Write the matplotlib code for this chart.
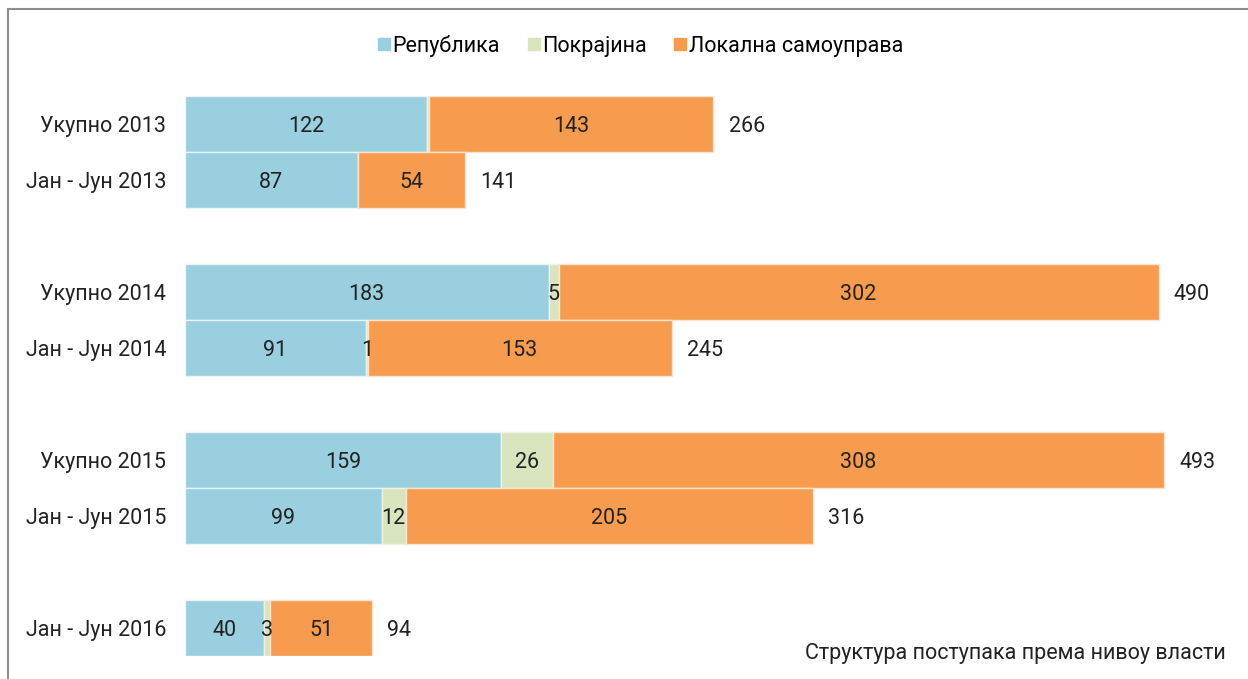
import numpy as np
import matplotlib.pyplot as plt
from matplotlib.lines import Line2D

plt.rcParams['font.family'] = ['Roboto', 'DejaVu Sans']

categories = ['Укупно 2013', 'Јан - Јун 2013', 'Укупно 2014', 'Јан - Јун 2014',
              'Укупно 2015', 'Јан - Јун 2015', 'Јан - Јун 2016']
positions = [0, 1, 3, 4, 6, 7, 9]
republika = [122, 87, 183, 91, 159, 99, 40]
pokrajina = [1, 0, 5, 1, 26, 12, 3]
pokrajina_labels = ['', '', '5', '1', '26', '12', '3']
lokalna = [143, 54, 302, 153, 308, 205, 51]
totals = [266, 141, 490, 245, 493, 316, 94]

c_rep = '#99CFDF'
c_pok = '#D8E4BE'
c_lok = '#F79C4E'

fig = plt.figure(figsize=(12.48, 6.79), dpi=100)
ax = fig.add_axes([185 / 1248, 1 - 656 / 679, (1238 - 185) / 1248, 560 / 679])

y = np.array(positions)
rep = np.array(republika)
pok = np.array(pokrajina)
lok = np.array(lokalna)

ax.barh(y, rep, height=1.0, color=c_rep, edgecolor='#EAF5F8', linewidth=1)
ax.barh(y, pok, left=rep, height=1.0, color=c_pok, edgecolor='#EEF3E3', linewidth=1)
ax.barh(y, lok, left=rep + pok, height=1.0, color=c_lok, edgecolor='#FCE3CE', linewidth=1)

fs = 15.5
tc = '#222222'
for i in range(len(y)):
    ax.text(rep[i] / 2, y[i], str(republika[i]), ha='center', va='center_baseline', fontsize=fs, color=tc)
    if pokrajina_labels[i]:
        ax.text(rep[i] + pok[i] / 2, y[i], pokrajina_labels[i], ha='center', va='center_baseline', fontsize=fs, color=tc)
    ax.text(rep[i] + pok[i] + lok[i] / 2, y[i], str(lokalna[i]), ha='center', va='center_baseline', fontsize=fs, color=tc)
    ax.annotate(str(totals[i]), (totals[i], y[i]), xytext=(11, 0), textcoords='offset points',
                ha='left', va='center_baseline', fontsize=fs, color=tc)

ax.set_xlim(0, 530)
ax.set_ylim(9.5, -0.5)
ax.set_yticks(positions)
ax.set_yticklabels(categories, fontsize=fs, color=tc, va='center_baseline')
ax.tick_params(axis='y', length=0, pad=13.5)
ax.set_xticks([])
for s in ax.spines.values():
    s.set_visible(False)

handles = [Line2D([], [], marker='s', linestyle='', markersize=8, color=c) for c in (c_rep, c_pok, c_lok)]
fig.legend(handles, ['Република', 'Покрајина', 'Локална самоуправа'], loc='center',
           bbox_to_anchor=(641 / 1248, 1 - 46 / 679), ncol=3, frameon=False, fontsize=fs,
           handlelength=0.5, handletextpad=0.15, columnspacing=1.3)

fig.text(1226 / 1248, 1 - 651 / 679, 'Структура поступака према нивоу власти',
         ha='right', va='center_baseline', fontsize=fs, color=tc)

# frame around the chart (top and left edges visible)
fig.add_artist(Line2D([8 / 1248, 1], [1 - 9 / 679, 1 - 9 / 679], color='#8C8C8C', linewidth=1.5))
fig.add_artist(Line2D([8 / 1248, 8 / 1248], [0, 1 - 9 / 679], color='#8C8C8C', linewidth=1.5))

fig.savefig('out.png', dpi=100)
